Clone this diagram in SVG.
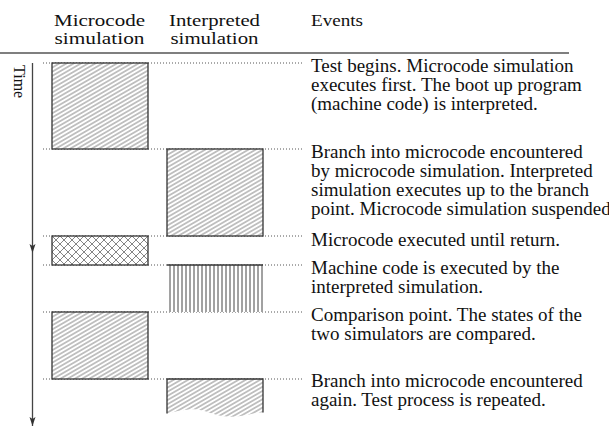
<svg xmlns="http://www.w3.org/2000/svg" width="609" height="427" viewBox="0 0 609 427">
<style>
  text { font-family: "Liberation Serif", "Times New Roman", serif; fill: #111; }
  .hdr { font-size: 16px; }
  .ev { font-size: 19px; }
  .box { stroke: #333; stroke-width: 1.3; }
  .dot { stroke: #555; stroke-width: 1; stroke-dasharray: 1 2; fill: none; }
  .axis { stroke: #444; stroke-width: 1.3; fill: none; }
</style>
<defs>
  <pattern id="diag" patternUnits="userSpaceOnUse" width="10" height="3.6" patternTransform="rotate(-30)">
    <rect width="10" height="3.6" fill="#fff"/>
    <line x1="0" y1="1.8" x2="10" y2="1.8" stroke="#666" stroke-width="0.8"/>
  </pattern>
  <pattern id="cross" patternUnits="userSpaceOnUse" width="8" height="8">
    <rect width="8" height="8" fill="#fff"/>
    <path d="M0,0 L8,8 M8,0 L0,8" stroke="#666" stroke-width="0.8"/>
  </pattern>
  <pattern id="vert" patternUnits="userSpaceOnUse" width="4" height="4">
    <rect width="4" height="4" fill="#fff"/>
    <line x1="2" y1="0" x2="2" y2="4" stroke="#444" stroke-width="1"/>
  </pattern>
</defs>

<g id="header" font-family="Liberation Serif, Times New Roman, serif">
  <text class="hdr" x="54" y="25.5" textLength="91" lengthAdjust="spacingAndGlyphs">Microcode</text>
  <text class="hdr" x="54.5" y="43.5" textLength="90" lengthAdjust="spacingAndGlyphs">simulation</text>
  <text class="hdr" x="169" y="25.5" textLength="91" lengthAdjust="spacingAndGlyphs">Interpreted</text>
  <text class="hdr" x="170.5" y="43.5" textLength="88" lengthAdjust="spacingAndGlyphs">simulation</text>
  <text class="hdr" x="311" y="25.5" textLength="52" lengthAdjust="spacingAndGlyphs">Events</text>
  <line x1="0" y1="53" x2="569" y2="53" stroke="#555" stroke-width="1.6"/>
</g>

<g id="time-axis" font-family="Liberation Serif, Times New Roman, serif">
  <text x="0" y="0" transform="translate(13.5,65) rotate(90)" font-size="16">Time</text>
  <line class="axis" x1="32.5" y1="63" x2="32.5" y2="426"/>
  <path d="M29.5,244 L32.5,253 L35.5,244 L32.5,246 Z" fill="#333"/>
  <path d="M29.5,417 L32.5,426 L35.5,417 L32.5,419 Z" fill="#333"/>
</g>

<g id="connectors">
  <line class="dot" x1="43" y1="63" x2="302" y2="63"/>
  <line class="dot" x1="43" y1="149" x2="302" y2="149"/>
  <line class="dot" x1="43" y1="236" x2="302" y2="236"/>
  <line class="dot" x1="43" y1="265" x2="302" y2="265"/>
  <line class="dot" x1="43" y1="312" x2="302" y2="312"/>
  <line class="dot" x1="43" y1="379" x2="302" y2="379"/>
</g>

<g id="box1"><rect class="box" x="52" y="63" width="96" height="86" fill="url(#diag)"/></g>
<g id="box2"><rect class="box" x="167" y="149" width="96" height="87" fill="url(#diag)"/></g>
<g id="box3"><rect class="box" x="52" y="236" width="96" height="29" fill="url(#cross)"/></g>
<g id="box4">
  <rect x="167" y="265" width="96" height="47" fill="url(#vert)"/>
  <line class="box" x1="167" y1="265" x2="263" y2="265"/>
</g>
<g id="box5"><rect class="box" x="52" y="312" width="96" height="67" fill="url(#diag)"/></g>
<g id="box6">
  <path d="M167,379 H263 V412.5 C256,411.5 246,417 230,416.7 C214,416.5 205,409 193,409.3 C181,409.6 173,412.5 167,413.5 Z" fill="url(#diag)"/>
  <path class="box" d="M167,413.5 V379 H263 V412.5" fill="none"/>
</g>

<g id="events" font-family="Liberation Serif, Times New Roman, serif">
  <text class="ev" x="311" y="72">Test begins. Microcode simulation</text>
  <text class="ev" x="311" y="91">executes first. The boot up program</text>
  <text class="ev" x="311" y="110">(machine code) is interpreted.</text>
  <text class="ev" x="311" y="158">Branch into microcode encountered</text>
  <text class="ev" x="311" y="177">by microcode simulation. Interpreted</text>
  <text class="ev" x="311" y="196">simulation executes up to the branch</text>
  <text class="ev" x="311" y="215">point. Microcode simulation suspended</text>
  <text class="ev" x="311" y="246">Microcode executed until return.</text>
  <text class="ev" x="311" y="274">Machine code is executed by the</text>
  <text class="ev" x="311" y="293">interpreted simulation.</text>
  <text class="ev" x="311" y="321">Comparison point. The states of the</text>
  <text class="ev" x="311" y="340">two simulators are compared.</text>
  <text class="ev" x="311" y="387">Branch into microcode encountered</text>
  <text class="ev" x="311" y="406">again. Test process is repeated.</text>
</g>
</svg>
